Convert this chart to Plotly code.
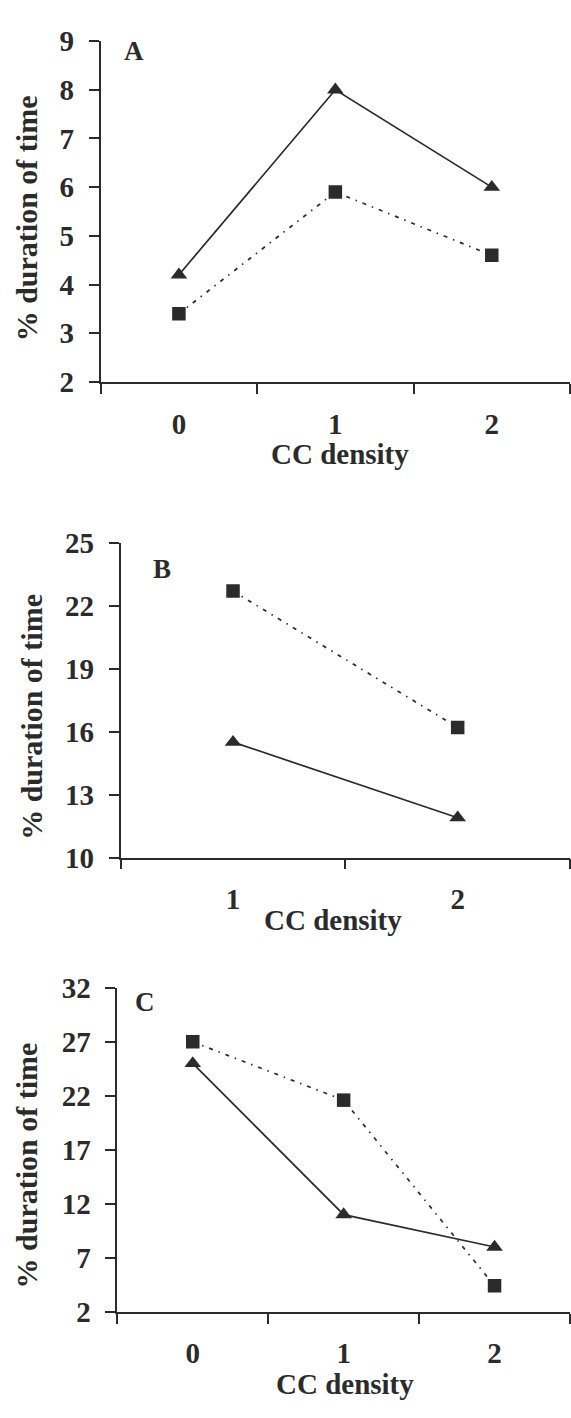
import plotly.graph_objects as go

W, H = 571, 1418
C = "#2b2b2b"
FONT = "Liberation Serif"

# ---- data ----
cats_A = ["0", "1", "2"]
tri_A = [4.2, 8.0, 6.0]
sq_A = [3.4, 5.9, 4.6]

cats_B = ["1", "2"]
tri_B = [15.5, 11.9]
sq_B = [22.7, 16.2]

cats_C = ["0", "1", "2"]
tri_C = [25.0, 11.0, 8.0]
sq_C = [27.0, 21.6, 4.4]

y_ranges = [(2, 9, 1), (10, 25, 3), (2, 32, 5)]
panel_letters = ["A", "B", "C"]
x_title = "CC density"
y_title = "% duration of time"


def px_x(px):
    return px / W


def px_y(py):
    return 1 - py / H


# plot-area boxes in pixels: (left, top, right, bottom)
boxes = [(100.7, 25.7, 570, 374.3), (120.7, 539, 570, 861), (117.3, 994.3, 570, 1325.7)]
letter_pos = [(134, 36), (162, 566), (145, 1009)]
ytitle_pos = [(26, 207), (32, 717), (26, 1176)]
xtitle_pos = [(340, 448), (333, 925), (345, 1400)]

fig = go.Figure()
panels = [(cats_A, tri_A, sq_A), (cats_B, tri_B, sq_B), (cats_C, tri_C, sq_C)]
tickfont = dict(family=FONT, size=29, color=C, weight="bold")

for i, (cats, tri, sq) in enumerate(panels):
    n = i + 1
    xa = "x" if n == 1 else f"x{n}"
    ya = "y" if n == 1 else f"y{n}"
    fig.add_trace(go.Scatter(
        x=cats, y=sq, mode="lines+markers", xaxis=xa, yaxis=ya,
        line=dict(color=C, width=1.7, dash="4px,6px,1.5px,6px"),
        marker=dict(symbol="square", size=13.5, color=C), showlegend=False))
    fig.add_trace(go.Scatter(
        x=cats, y=tri, mode="lines+markers", xaxis=xa, yaxis=ya,
        line=dict(color=C, width=1.7),
        marker=dict(symbol="triangle-up", size=14.5, color=C), showlegend=False))

    l, t, r, b = boxes[i]
    y0, y1, dy = y_ranges[i]
    xkey = "xaxis" if n == 1 else f"xaxis{n}"
    ykey = "yaxis" if n == 1 else f"yaxis{n}"
    fig.update_layout(**{
        xkey: dict(
            type="category", categoryorder="array", categoryarray=cats,
            range=[-0.5, len(cats) - 0.5], tickson="boundaries",
            ticks="outside", ticklen=10, tickwidth=1.7, tickcolor=C,
            showline=True, linecolor=C, linewidth=1.7,
            showgrid=False, zeroline=False, tickfont=tickfont,
            ticklabelstandoff=15,
            domain=[px_x(l), px_x(r)], anchor=ya,
        ),
        ykey: dict(
            range=[y0, y1], tick0=y0, dtick=dy,
            ticks="outside", ticklen=10, tickwidth=1.7, tickcolor=C,
            showline=True, linecolor=C, linewidth=1.7,
            showgrid=False, zeroline=False, tickfont=tickfont,
            ticklabelstandoff=9,
            domain=[px_y(b), px_y(t)], anchor=xa,
        ),
    })

    # panel letter
    lx, ly = letter_pos[i]
    fig.add_annotation(text=panel_letters[i], x=px_x(lx), y=px_y(ly), xref="paper", yref="paper",
                       showarrow=False, xanchor="center", yanchor="middle",
                       font=dict(family=FONT, size=27, color=C, weight="bold"))
    # y title
    tx, ty = ytitle_pos[i]
    fig.add_annotation(text=y_title, x=px_x(tx), y=px_y(ty), xref="paper", yref="paper",
                       showarrow=False, xanchor="center", yanchor="middle", textangle=-90,
                       font=dict(family=FONT, size=30, color=C, weight="bold"))
    # x title
    tx, ty = xtitle_pos[i]
    fig.add_annotation(text=x_title, x=px_x(tx), y=px_y(ty), xref="paper", yref="paper",
                       showarrow=False, xanchor="center", yanchor="middle",
                       font=dict(family=FONT, size=29, color=C, weight="bold"))

fig.update_layout(width=W, height=H, margin=dict(l=0, r=0, t=0, b=0),
                  paper_bgcolor="white", plot_bgcolor="white")

fig.write_html("out.html")
